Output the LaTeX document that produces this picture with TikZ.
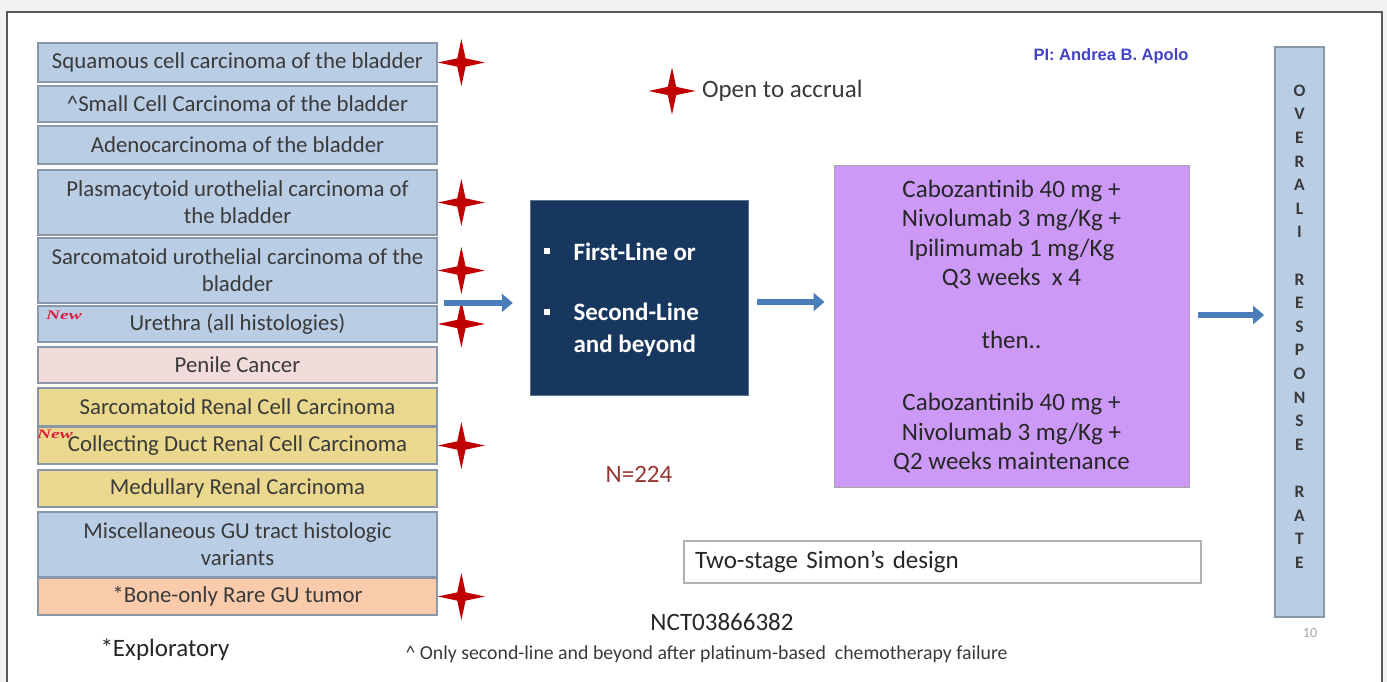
\documentclass[tikz,border=0pt]{standalone}
\usepackage{fontspec}
\setmainfont{Carlito}
\newfontfamily\arialfont{Liberation Sans}
\newfontfamily\timesfont{Liberation Serif}
\usetikzlibrary{arrows.meta,positioning,shapes.geometric}
\definecolor{slidegray}{HTML}{F2F2F2}
\definecolor{framegray}{HTML}{595959}
\definecolor{txtgray}{HTML}{3A3A3A}
\definecolor{steelfill}{HTML}{B9CDE5}
\definecolor{boxedge}{HTML}{8A97A8}
\definecolor{pinkfill}{HTML}{F2DCDB}
\definecolor{goldfill}{HTML}{EAD88E}
\definecolor{peachfill}{HTML}{F9CBAA}
\definecolor{navy}{HTML}{17375E}
\definecolor{lilac}{HTML}{CC99F7}
\definecolor{starred}{HTML}{C00000}
\definecolor{flowblue}{HTML}{4A7EBB}
\definecolor{nred}{HTML}{953735}
\definecolor{piblue}{HTML}{4343C4}
\definecolor{newred}{HTML}{E01B3C}
\tikzset{
  histbox/.style={draw=boxedge, line width=1.8pt, minimum width=399pt, inner sep=0pt, align=center, text=txtgray, font=\fontsize{22.8}{27}\selectfont},
  bluebox/.style={histbox, fill=steelfill},
  pinkbox/.style={histbox, fill=pinkfill},
  goldbox/.style={histbox, fill=goldfill},
  peachbox/.style={histbox, fill=peachfill},
  openstar/.style={star, star points=4, star point ratio=4, minimum size=47pt, inner sep=0pt, outer sep=0pt, fill=starred},
  newtag/.style={text=newred, inner sep=0pt, font=\timesfont\bfseries\itshape\fontsize{13}{13}\selectfont},
  bigtext/.style={text=txtgray, font=\fontsize{25}{30}\selectfont},
  navytext/.style={text=white, align=left, font=\bfseries\fontsize{25}{32}\selectfont},
  bulletsq/.style={fill=white, minimum size=6pt, inner sep=0pt},
  flow/.style={draw=flowblue, line width=6pt, -{Triangle[length=11pt,width=18pt]}}
}
\begin{document}
\begin{tikzpicture}[x=1pt, y=-1pt]
  \fill[slidegray] (0,0) rectangle (1387,682);
  \useasboundingbox (0,0) rectangle (1387,682);
  \draw[framegray, line width=1.5pt, fill=white] (7,12) rectangle (1382,700);
  % histology column
  \node[bluebox, minimum height=39pt] (sq) at (237.5,62.5) {Squamous cell carcinoma of the bladder};
  \node[bluebox, minimum height=36pt] (sm) at (237.5,104) {\textasciicircum Small Cell Carcinoma of the bladder};
  \node[bluebox, minimum height=38pt] (ad) at (237.5,145) {Adenocarcinoma of the bladder};
  \node[bluebox, minimum height=65pt] (pl) at (237.5,202.5) {Plasmacytoid urothelial carcinoma of\\the bladder};
  \node[bluebox, minimum height=65pt] (su) at (237.5,270.5) {Sarcomatoid urothelial carcinoma of the\\bladder};
  \node[bluebox, minimum height=36pt] (ur) at (237.5,324) {Urethra (all histologies)};
  \node[pinkbox, minimum height=36pt] (pe) at (237.5,365) {Penile Cancer};
  \node[goldbox, minimum height=38pt] (sr) at (237.5,407) {Sarcomatoid Renal Cell Carcinoma};
  \node[goldbox, minimum height=37pt] (cd) at (237.5,445.5) {Collecting Duct Renal Cell Carcinoma};
  \node[goldbox, minimum height=37pt] (me) at (237.5,488.5) {Medullary Renal Carcinoma};
  \node[bluebox, minimum height=65pt] (mi) at (237.5,544.5) {Miscellaneous GU tract histologic\\variants};
  \node[peachbox, minimum height=37pt] (bo) at (237.5,596.5) {*Bone-only Rare GU tumor};
  \node[newtag] (new1) at (64,315) {\scalebox{1.5}[1]{New}};
  \node[newtag] (new2) at (55,434) {\scalebox{1.5}[1]{New}};
  % open to accrual
  \node[openstar, right=0pt of sq] (st1) {};
  \node[openstar, right=0pt of pl] (st2) {};
  \node[openstar, right=0pt of su] (st3) {};
  \node[openstar, right=0pt of ur] (st4) {};
  \node[openstar, right=0pt of cd] (st5) {};
  \node[openstar, right=0pt of bo] (st6) {};
  \node[openstar] (accstar) at (672,91) {};
  \node[bigtext, right=3pt of accstar] (acctxt) {Open to accrual};
  % treatment line
  \node[fill=navy, draw=navy!70!white, minimum width=218pt, minimum height=195pt] (navy) at (639,297.5) {};
  \node[bulletsq] (bul1) at (547,251) {};
  \node[bulletsq] (bul2) at (547,312) {};
  \node[navytext, anchor=west] (fl) at (570,252) {First-Line or};
  \node[navytext, anchor=west] (sl) at (570,330) {Second-Line\\and beyond};
  % regimen
  \node[fill=lilac, draw=gray!70, line width=1pt, minimum width=355pt, minimum height=321pt, align=center, text=black!85,
        font=\fontsize{25}{29.5}\selectfont] (regimen) at (1011.5,326.5)
    {Cabozantinib 40 mg +\\Nivolumab 3 mg/Kg +\\Ipilimumab 1 mg/Kg\\Q3 weeks\ \ x 4\\[33pt]then..\\[33pt]Cabozantinib 40 mg +\\Nivolumab 3 mg/Kg +\\Q2 weeks maintenance};
  % endpoint
  \node[fill=steelfill, draw=boxedge, line width=1.8pt, minimum width=49pt, minimum height=570pt] (orr) at (1299.5,332) {};
  \node[align=center, text=txtgray, font=\bfseries\fontsize{17.5}{23.6}\selectfont] (orrtxt) at (1299.5,326.5)
    {O\\V\\E\\R\\A\\L\\I\\[23.6pt]R\\E\\S\\P\\O\\N\\S\\E\\[23.6pt]R\\A\\T\\E};
  % arrows
  \draw[flow] ([xshift=6pt,yshift=1pt]su.south east) -- ([xshift=-17pt,yshift=1pt]navy.west |- su.south east);
  \draw[flow] ([xshift=9pt,yshift=-4.5pt]navy.east) -- ([xshift=-9pt,yshift=-4.5pt]regimen.west |- navy.east);
  \draw[flow] ([xshift=8pt,yshift=11.5pt]regimen.east) -- ([xshift=-10pt,yshift=11.5pt]orr.west |- regimen.east);
  % notes
  \node[text=piblue, font=\arialfont\bfseries\fontsize{16.5}{20}\selectfont] (pi) at (1111,56) {PI: Andrea B. Apolo};
  \node[bigtext, text=nred] (n) at (639,474) {N=224};
  \node[draw=gray!60, line width=1.5pt, fill=white, text width=495pt, inner xsep=11pt, minimum height=42pt, align=left,
        text=black!85, font=\fontsize{25}{30}\selectfont] (simon) at (942.5,562) {Two-stage Simon’s design};
  \node[bigtext, text=black!85] (nct) at (722,622) {NCT03866382};
  \node[bigtext, text=black!85, anchor=west] (expl) at (97,650) {*Exploratory};
  \node[text=txtgray, anchor=west, font=\fontsize{19.8}{22}\selectfont] (foot) at (402,654) {\textasciicircum\ Only second-line and beyond after platinum-based\ \ chemotherapy failure};
  \node[text=gray!70, font=\fontsize{14}{16}\selectfont] (pg) at (1310,633) {10};
\end{tikzpicture}
\end{document}
